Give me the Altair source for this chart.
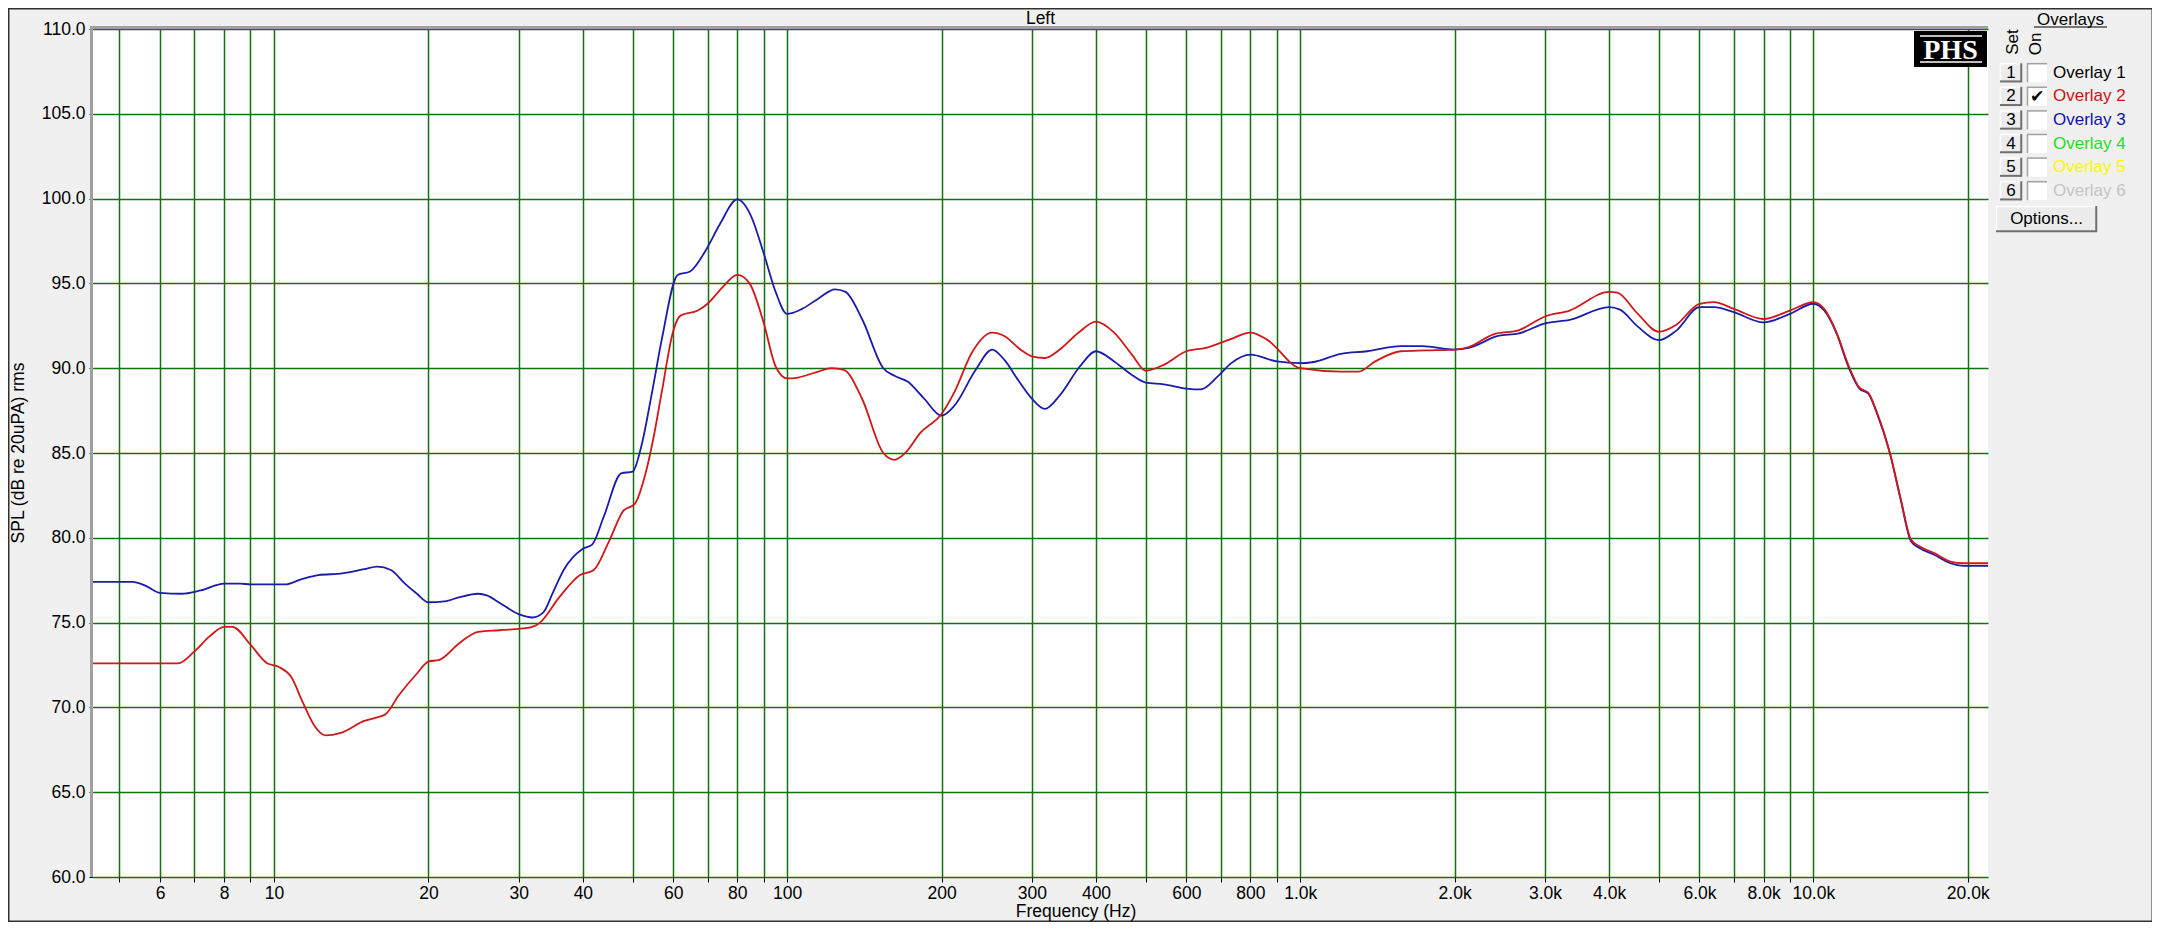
import altair as alt
import pandas as pd

# ---------------- data ----------------
blue_freq = [4.44, 5.3, 5.6, 6.0, 6.6, 7.2, 8.0, 8.6, 9.0, 10.5, 11.3, 12.2, 13.6, 15.0, 15.9, 16.9,
             18.0, 19.0, 20.0, 21.5, 23.0, 25.0, 26.0, 27.4, 30.0, 31.9, 33.5, 35.0, 36.7, 40.0, 41.7,
             44.0, 47.5, 50.0, 52.0, 54.5, 57.0, 61.2, 64.7, 69.6, 74.0, 80.0, 85.0, 90.0, 95.0, 100.0,
             107.0, 115.0, 124.0, 130.0, 140.0, 154.0, 162.0, 172.0, 185.0, 200.0, 212.0, 233.0, 251.0,
             265.0, 282.0, 300.0, 318.0, 340.0, 372.0, 400.0, 434.0, 470.0, 500.0, 542.0, 600.0, 640.0,
             690.0, 734.0, 800.0, 900.0, 1000.0, 1055.0, 1200.0, 1350.0, 1570.0, 1730.0, 2000.0, 2130.0,
             2430.0, 2670.0, 3000.0, 3350.0, 4000.0, 4200.0, 4550.0, 5000.0, 5400.0, 6000.0, 6400.0,
             7000.0, 8000.0, 9000.0, 10000.0, 10500.0, 11100.0, 11700.0, 12300.0, 12800.0, 13300.0,
             14100.0, 14800.0, 15500.0, 16100.0, 17200.0, 18500.0, 19600.0, 21900.0]
blue_spl = [77.4, 77.4, 77.2, 76.75, 76.7, 76.9, 77.3, 77.3, 77.25, 77.25, 77.55, 77.8, 77.9, 78.15, 78.3, 78.1,
            77.3, 76.7, 76.2, 76.25, 76.5, 76.7, 76.6, 76.2, 75.5, 75.3, 75.6, 76.8, 78.1, 79.35, 79.6,
            81.3, 83.8, 83.9, 85.4, 88.5, 91.7, 95.5, 95.7, 97.0, 98.5, 99.95, 99.0, 96.8, 94.5, 93.2,
            93.5, 94.1, 94.65, 94.5, 92.9, 90.0, 89.55, 89.2, 88.2, 87.2, 87.8, 89.9, 91.1,
            90.5, 89.3, 88.2, 87.6, 88.4, 90.1, 91.0, 90.4, 89.6, 89.15, 89.05, 88.8, 88.75,
            89.5, 90.3, 90.8, 90.4, 90.3, 90.35, 90.85, 91.0, 91.3, 91.3, 91.1, 91.2,
            91.9, 92.05, 92.65, 92.85, 93.6, 93.45, 92.45, 91.65, 92.2, 93.6, 93.6,
            93.3, 92.7, 93.2, 93.8, 93.4, 92.05, 90.1, 88.8, 88.5, 87.35,
            85.0, 82.25, 79.8, 79.4, 79.0, 78.5, 78.35, 78.35]

red_freq = [4.44, 6.5, 7.0, 7.5, 8.0, 8.3, 9.0, 9.7, 10.2, 10.8, 11.4, 12.0, 12.6, 13.5, 15.0, 15.8, 16.5,
            17.5, 19.0, 20.0, 21.0, 23.0, 25.0, 27.5, 31.5, 33.0, 36.0, 39.5, 42.0, 45.0, 48.0, 50.5,
            53.0, 55.0, 57.0, 60.0, 62.0, 67.0, 70.0, 75.0, 80.0, 84.5, 90.0, 95.0, 100.0, 105.0, 115.0,
            122.0, 129.0, 140.0, 154.0, 162.0, 170.0, 182.0, 200.0, 212.0, 229.0, 251.0, 265.0, 285.0,
            300.0, 318.0, 340.0, 370.0, 400.0, 434.0, 470.0, 500.0, 542.0, 600.0, 655.0, 730.0, 800.0,
            860.0, 1000.0, 1200.0, 1300.0, 1400.0, 1570.0, 1760.0, 2000.0, 2130.0, 2380.0, 2670.0,
            3000.0, 3350.0, 4000.0, 4150.0, 4550.0, 5000.0, 5400.0, 6000.0, 6400.0, 7000.0, 8000.0,
            9000.0, 10000.0, 10500.0, 11100.0, 11700.0, 12300.0, 12800.0, 13300.0, 14100.0, 14800.0,
            15500.0, 16100.0, 17200.0, 18500.0, 19600.0, 21900.0]
red_spl = [72.6, 72.6, 73.3, 74.2, 74.75, 74.75, 73.7, 72.6, 72.4, 71.8, 70.25, 68.9, 68.35, 68.5, 69.2, 69.4, 69.6,
           70.7, 72.0, 72.7, 72.8, 73.8, 74.45, 74.55, 74.7, 75.0, 76.5, 77.8, 78.1, 79.8, 81.6, 82.0,
           83.8, 86.0, 88.6, 92.2, 93.1, 93.4, 93.8, 94.8, 95.5, 95.0, 92.7, 90.1, 89.4, 89.45, 89.8,
           90.0, 89.9, 88.2, 85.0, 84.6, 85.0, 86.2, 87.3, 88.6, 90.9, 92.1, 91.9, 91.1,
           90.7, 90.6, 91.1, 92.1, 92.75, 92.1, 90.8, 89.85, 90.2, 91.0, 91.2, 91.7, 92.1,
           91.7, 90.0, 89.8, 89.8, 90.4, 91.0, 91.05, 91.1, 91.25, 92.0, 92.25,
           93.05, 93.4, 94.5, 94.45, 93.2, 92.15, 92.55, 93.8, 93.9, 93.5, 92.9,
           93.4, 93.9, 93.5, 92.1, 90.2, 88.85, 88.55, 87.4, 85.0, 82.3,
           79.9, 79.5, 79.1, 78.6, 78.5, 78.5]

series_names = ["Data", "Overlay 2"]
series_colors = ["#1c1caa", "#d01818"]

x_grid = [5, 6, 7, 8, 9, 10, 20, 30, 40, 50, 60, 70, 80, 90, 100, 200, 300, 400, 500, 600, 700, 800, 900,
          1000, 2000, 3000, 4000, 5000, 6000, 7000, 8000, 9000, 10000, 20000]
x_labeled = [6, 8, 10, 20, 30, 40, 60, 80, 100, 200, 300, 400, 600, 800, 1000, 2000, 3000, 4000, 6000,
             8000, 10000, 20000]
y_ticks = [60, 65, 70, 75, 80, 85, 90, 95, 100, 105, 110]
x_domain = [4.44, 21900]
y_domain = [60, 110]

chart_title = "Left"
x_title = "Frequency (Hz)"
y_title = "SPL (dB re 20uPA) rms"
logo_text = "PHS"
legend_title = "Overlays"
overlay_numbers = ["1", "2", "3", "4", "5", "6"]
overlay_labels = ["Overlay 1", "Overlay 2", "Overlay 3", "Overlay 4", "Overlay 5", "Overlay 6"]
overlay_colors = ["#000000", "#d01010", "#1010b0", "#20e020", "#f8f800", "#c4c4c4"]
overlay_checked = [False, True, False, False, False, False]
options_label = "Options..."

# ---------------- layout ----------------
W, H = 1895, 848
FONT = "Liberation Sans"
FS = 17.5
GRID = "#0e720e"

df = pd.concat([
    pd.DataFrame({"freq": blue_freq, "spl": blue_spl, "series": series_names[0]}),
    pd.DataFrame({"freq": red_freq, "spl": red_spl, "series": series_names[1]}),
])

label_list = ",".join(str(v) for v in x_labeled)
label_expr = (f"indexof([{label_list}], datum.value) >= 0 ? "
              "(datum.value >= 1000 ? format(datum.value / 1000, '.1f') + 'k' : format(datum.value, 'd')) : ''")

lines = alt.Chart(df).mark_line(interpolate="monotone", strokeWidth=1.8, clip=True).encode(
    x=alt.X("freq:Q", scale=alt.Scale(type="log", domain=x_domain, nice=False, zero=False),
            axis=alt.Axis(values=x_grid, labelExpr=label_expr, grid=True, gridColor=GRID, gridWidth=1.5,
                          gridOpacity=1, domain=False, ticks=True, tickColor="#000000", tickSize=5,
                          labelFont=FONT, labelFontSize=FS, labelColor="#000000", labelPadding=2,
                          labelOverlap=False, labelBound=False, labelFlush=False, title=None)),
    y=alt.Y("spl:Q", scale=alt.Scale(domain=y_domain, nice=False, zero=False),
            axis=alt.Axis(values=y_ticks, format=".1f", grid=True, gridColor=GRID, gridWidth=1.5,
                          gridOpacity=1, domain=False, tickColor="#000000", tickSize=4,
                          labelFont=FONT, labelFontSize=FS, labelColor="#000000", labelPadding=4,
                          labelOverlap=False, title=None)),
    color=alt.Color("series:N", scale=alt.Scale(domain=series_names, range=series_colors), legend=None),
    order=alt.Order("freq:Q"),
)

one = pd.DataFrame({"t": [""]})


def txt(text, x, y, **kw):
    opts = dict(font=FONT, fontSize=FS, color="#000000")
    opts.update(kw)
    return alt.Chart(pd.DataFrame({"t": [text]})).mark_text(**opts).encode(
        text="t:N", x=alt.value(x), y=alt.value(y))


def rect(x1, x2, y1, y2, **kw):
    return alt.Chart(one).mark_rect(**kw).encode(
        x=alt.value(x1), x2=alt.value(x2), y=alt.value(y1), y2=alt.value(y2))


def rule(x1, y1, x2, y2, color, width):
    return alt.Chart(one).mark_rule(color=color, strokeWidth=width).encode(
        x=alt.value(x1), y=alt.value(y1), x2=alt.value(x2), y2=alt.value(y2))


def button(x1, x2, y1, y2):
    return [
        rect(x1, x2, y1, y2, color="#ececec"),
        rule(x1, y1 + 0.5, x2, y1 + 0.5, "#ffffff", 1.5),
        rule(x1 + 0.5, y1, x1 + 0.5, y2, "#ffffff", 1.5),
        rule(x1, y2 - 0.75, x2, y2 - 0.75, "#707070", 2),
        rule(x2 - 0.75, y1, x2 - 0.75, y2, "#707070", 2),
    ]


layers = []
# outer window frame
layers.append(rect(-84.5, 2059.5, -20.5, 892.5, fillOpacity=0, stroke="#303030", strokeWidth=2))
# sunken plot border (left / top)
layers.append(rule(-1.5, -3, -1.5, H, "#a0a0a0", 3))
layers.append(rule(-3, -1.5, W, -1.5, "#a0a0a0", 3))

layers.append(lines)

# titles
layers.append(txt(chart_title, W / 2, -10.5, align="center", baseline="middle"))
layers.append(txt(x_title, 983, 883, align="center", baseline="middle"))
layers.append(txt(y_title, -74, H / 2, align="center", baseline="middle", angle=270))

# PHS logo
layers.append(rect(1821, 1894, 2, 38, color="#000000"))
layers.append(rule(1827, 7, 1889, 7, "#ffffff", 1.5))
layers.append(rule(1827, 33, 1889, 33, "#ffffff", 1.5))
layers.append(txt(logo_text, 1857.5, 30, align="center", baseline="alphabetic",
                  font="Liberation Serif", fontSize=28, fontWeight="bold", color="#ffffff"))

# overlay panel
layers.append(txt(legend_title, 1977.5, -4, align="center", baseline="alphabetic", fontSize=17))
layers.append(rule(1941, -2, 2014, -2, "#000000", 1))
layers.append(txt("Set", 1919.5, 13, align="center", baseline="middle", angle=270, fontSize=17))
layers.append(txt("On", 1942.5, 15, align="center", baseline="middle", angle=270, fontSize=17))

for i, (num, lab, col, chk) in enumerate(zip(overlay_numbers, overlay_labels, overlay_colors, overlay_checked)):
    c = 43.7 + 23.6 * i
    layers += button(1907, 1929, c - 9.5, c + 9.5)
    layers.append(txt(num, 1918, c, align="center", baseline="middle", fontSize=17))
    layers.append(rect(1934, 1954, c - 9.5, c + 9.5, color="#ffffff"))
    layers.append(rule(1934, c - 9, 1954, c - 9, "#a0a0a0", 1.5))
    layers.append(rule(1934.5, c - 9.5, 1934.5, c + 9.5, "#a0a0a0", 1.5))
    if chk:
        layers.append(txt("\u2714", 1944, c + 1, align="center", baseline="middle",
                          font="DejaVu Sans", fontSize=17))
    layers.append(txt(lab, 1960, c, align="left", baseline="middle", fontSize=17, color=col))

layers += button(1903, 2004, 177, 203)
layers.append(txt(options_label, 1953.5, 190, align="center", baseline="middle", fontSize=17))

chart = alt.layer(*layers).properties(
    width=W, height=H,
    autosize=alt.AutoSizeParams(type="none"),
    padding={"left": 85, "top": 21, "right": 164, "bottom": 45},
).configure(background="#f0f0f0").configure_view(fill="#ffffff", strokeWidth=0)

chart.save("out.html", embed_options={"renderer": "svg", "actions": False})
